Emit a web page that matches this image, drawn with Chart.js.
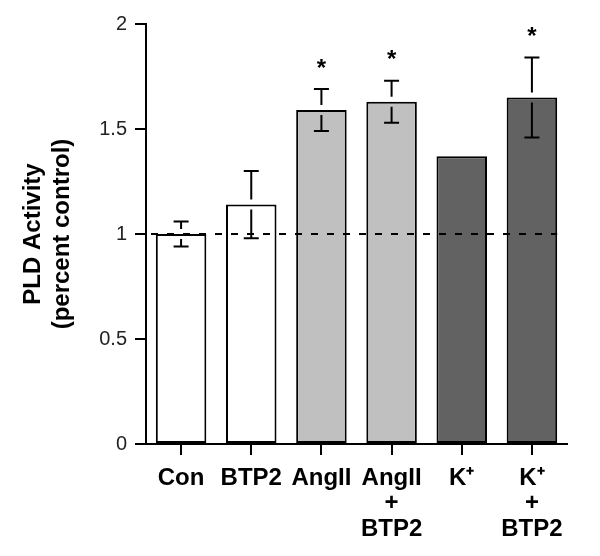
<!DOCTYPE html>
<html lang="en">
<head>
<meta charset="UTF-8">
<script src="https://cdn.jsdelivr.net/npm/chart.js"></script>
<title>PLD Activity</title>
<style>
  body { margin: 0; background: #fff; }
  #box { width: 600px; height: 556px; }
</style>
</head>
<body>
<div id="box"><canvas id="grafico" width="600" height="556"></canvas></div>
<script>
// data
const categorias = ['Con', 'BTP2', 'AngII', ['AngII', '+', 'BTP2'], 'K⁺', ['K⁺', '+', 'BTP2']];
const valores = [1.0, 1.14, 1.59, 1.63, 1.37, 1.65];
const erros = [0.06, 0.16, 0.10, 0.10, 0, 0.19];
const significativo = [false, false, true, true, false, true];
const cores = ['#ffffff', '#ffffff', '#c0c0c0', '#c0c0c0', '#626262', '#626262'];
const yTicks = [0, 0.5, 1, 1.5, 2];
const referencia = 1;

const fonte = "'Liberation Sans', Arial, Helvetica, sans-serif";

// error bars, stars and the dashed control line
const extras = {
  id: 'extras',
  afterDatasetsDraw(chart) {
    const ctx = chart.ctx;
    const y = chart.scales.y;
    const area = chart.chartArea;
    const meta = chart.getDatasetMeta(0);

    // dashed line at control level
    const y1 = y.getPixelForValue(referencia);
    const ultima = meta.data[meta.data.length - 1];
    ctx.save();
    ctx.strokeStyle = '#000';
    ctx.lineWidth = 2;
    ctx.setLineDash([7, 9]);
    ctx.beginPath();
    ctx.moveTo(area.left - 11, y1);
    ctx.lineTo(ultima.x + ultima.width / 2, y1);
    ctx.stroke();
    ctx.restore();

    ctx.save();
    ctx.strokeStyle = '#000';
    ctx.lineWidth = 2;
    meta.data.forEach((bar, i) => {
      const e = erros[i];
      if (e > 0) {
        const topo = y.getPixelForValue(valores[i]);
        const alto = y.getPixelForValue(valores[i] + e);
        const baixo = y.getPixelForValue(valores[i] - e);
        const gap = 5;
        ctx.beginPath();
        ctx.moveTo(bar.x, alto);
        ctx.lineTo(bar.x, topo - gap);
        ctx.moveTo(bar.x, topo + gap);
        ctx.lineTo(bar.x, baixo);
        ctx.moveTo(bar.x - 7.5, alto);
        ctx.lineTo(bar.x + 7.5, alto);
        ctx.moveTo(bar.x - 7.5, baixo);
        ctx.lineTo(bar.x + 7.5, baixo);
        ctx.stroke();
      }
      if (significativo[i]) {
        const yy = y.getPixelForValue(valores[i] + e) - 25;
        ctx.fillStyle = '#000';
        ctx.font = 'bold 24px ' + fonte;
        ctx.textAlign = 'center';
        ctx.textBaseline = 'middle';
        ctx.fillText('*', bar.x, yy + 5);
      }
    });
    ctx.restore();
  }
};

new Chart(document.getElementById('grafico'), {
  type: 'bar',
  data: {
    labels: categorias,
    datasets: [{
      data: valores,
      backgroundColor: cores,
      borderColor: '#000',
      borderWidth: 2,
      borderSkipped: false,
      categoryPercentage: 1,
      barPercentage: 0.72
    }]
  },
  options: {
    responsive: false,
    animation: false,
    layout: { padding: { left: 0, right: 33, top: 24, bottom: 0 } },
    plugins: {
      legend: { display: false },
      tooltip: { enabled: false }
    },
    scales: {
      x: {
        grid: {
          display: true,
          drawOnChartArea: false,
          drawTicks: true,
          offset: false,
          tickLength: 11,
          color: '#000',
          lineWidth: 2
        },
        border: { display: true, color: '#000', width: 2 },
        ticks: {
          color: '#000',
          padding: 11,
          maxRotation: 0,
          autoSkip: false,
          font: { family: fonte, size: 24, weight: 'bold', lineHeight: 1.05 }
        },
        afterFit(scale) { scale.height = 112; }
      },
      y: {
        min: 0,
        max: 2,
        afterBuildTicks(scale) { scale.ticks = yTicks.map(v => ({ value: v })); },
        grid: {
          display: true,
          drawOnChartArea: false,
          drawTicks: true,
          tickLength: 11,
          color: '#000',
          lineWidth: 2
        },
        border: { display: true, color: '#000', width: 2 },
        ticks: {
          color: '#222',
          padding: 8,
          font: { family: fonte, size: 20 },
          callback: v => String(v)
        },
        title: {
          display: true,
          text: ['PLD Activity', '(percent control)'],
          color: '#000',
          padding: { top: 19, bottom: 0 },
          font: { family: fonte, size: 24, weight: 'bold', lineHeight: 1.2 }
        },
        afterFit(scale) { scale.width = 146; }
      }
    }
  },
  plugins: [extras]
});
</script>
</body>
</html>
